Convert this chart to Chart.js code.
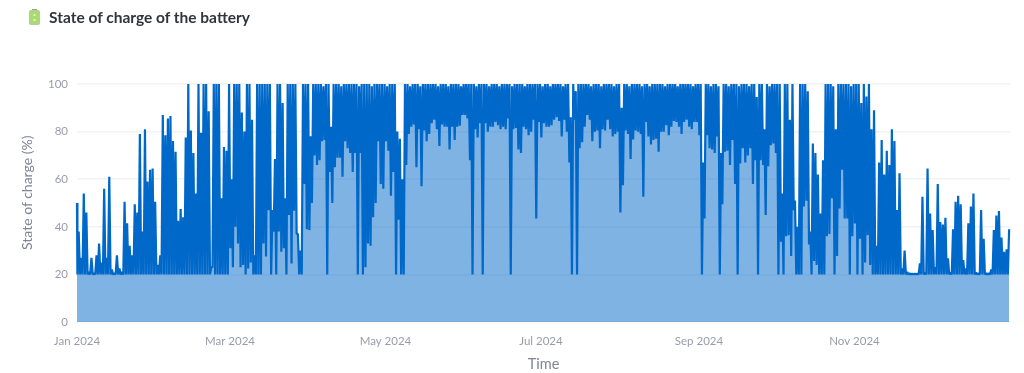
<!DOCTYPE html>
<html>
<head>
<meta charset="utf-8">
<title>State of charge of the battery</title>
<script src="https://cdn.jsdelivr.net/npm/chart.js@4"></script>
<style>
  html, body { margin: 0; padding: 0; background: #fff; }
  #wrap { position: relative; width: 1024px; height: 373px; overflow: hidden; }
  #soc { position: absolute; left: 0; top: 0; }
  #icon { position: absolute; left: 29px; top: 9px; }
  #heading {
    position: absolute; left: 49px; top: 8px; margin: 0;
    font: 700 15.5px Lato, sans-serif; color: #31333f; white-space: nowrap;
  }
  #y_title {
    position: absolute; left: 18px; top: 143px; height: 107px; line-height: 16px;
    writing-mode: vertical-rl; transform: rotate(180deg); text-align: center;
    font: 14px Lato, sans-serif; color: #808495; white-space: nowrap;
  }
</style>
</head>
<body>
<div id="wrap">
  <canvas id="soc" width="1024" height="373"></canvas>
  <svg id="icon" width="11" height="16" viewBox="0 0 11 16">
    <rect x="3" y="0" width="5" height="2" fill="#9aa58f"/>
    <rect x="0.5" y="1.5" width="10" height="14" rx="1" fill="#a9db70" stroke="#b9c7ad" stroke-width="1"/>
    <rect x="4.5" y="5" width="2" height="2" fill="#e4f3c8"/>
    <rect x="4.5" y="10" width="2" height="2" fill="#e4f3c8"/>
  </svg>
  <h3 id="heading">State of charge of the battery</h3>
  <div id="y_title">State of charge (%)</div>
</div>
<script>
// Daily peak of the state of charge (%), one value per day plus the last one
var daily_high = [
    50,38,27,54,46,21,27,20.5,28,33,
    25,56,27,61,22,20.5,28,22.5,21,50.5,
    41.5,32,28,49.5,46,79,38,81,59,64,
    64.5,50.5,24,28,87,78.5,85.5,86.5,76,71.5,
    42.5,47.5,44,77.5,100,80.5,71,54,100,79.5,
    100,100,88.5,23,100,100,100,52,73.5,72,
    100,60,100,100,100,88,80,100,100,85,
    28,100,100,100,100,100,100,47,68.5,100,
    100,92,52,100,100,100,100,37,30,100,
    100,100,78,100,100,100,100,99,100,100,
    82,100,100,100,99,100,100,100,100,100,
    100,99,100,100,100,100,99,100,100,100,
    100,100,99,100,100,100,80,77,60,100,
    100,99,100,100,100,99,100,100,100,100,
    100,100,99,100,100,100,99,100,100,100,
    100,99,100,100,100,100,100,99,100,100,
    100,100,99,100,100,100,99,100,100,100,
    100,99,100,100,100,100,99,100,100,100,
    100,100,100,99,100,100,99,100,100,100,
    100,99,100,100,86,100,97,100,100,100,
    100,100,99,100,100,100,99,100,100,100,
    100,99,100,100,90,100,100,99,100,100,
    100,100,99,100,100,99,100,100,100,100,
    100,99,100,100,100,100,99,100,100,100,
    100,100,99,100,100,100,67,100,100,99,
    100,100,99,71,100,100,99,100,100,100,
    99,100,100,100,99,100,100,94.5,100,100,
    81,100,99,100,100,100,100,54,100,100,
    85,100,51,40,100,100,100,97,38,75,
    71,62,45.6,68,100,100,100,99,81,100,
    100,100,100,100,99,100,100,100,92,100,
    94.7,100,81,89,32,67,76.5,62,72,66,
    81,76,47,62.5,22.5,30,21,20.5,20.3,20.3,
    20.3,24.6,52.6,20.7,64.5,45.6,38.6,23,58,42,
    41,43.8,26.7,20.7,39,50.5,53,49.5,26,22.5,
    41.5,48.5,54,20.7,20.4,47,35,20.5,20.5,22,
    38.6,44.7,46.6,35.5,29.5,30.5,39
];

// Daily low of the state of charge (%), one value per day
var daily_low = [
    20,20,20,20,20,20,20,20,20,20,
    20,20,20,20,20,20,20,20,20,20,
    20,20,20,20,20,20,20,20,20,20,
    20,20,20,20,20,20,20,20,20,20,
    20,20,20,20,20,20,20,20,20,20,
    20,20,20,23,20,20,20,20,20,20,
    31,23,40,33,23,24,20,22.5,25,20,
    20,20,20,33,27.5,47,20,38,20,38,
    29.5,31,20,45,24.6,46.7,37,20,20,58,
    39,38.6,50,70,66,68,76,76.5,20,63,
    50,65,69,69,61,76,73,71,63,71,
    20,71,20,23,33,32,44,50,76,58,
    56,76,72,53,63,20,43,20,20,66,
    79,82,83,65,81,57,80.5,76,79,83.5,
    85,81,74,83,82,82,72.5,82,76.5,82,
    82.5,87,87,85.5,68,20,81,77.5,83.5,20,
    83.5,80,82,82,84,82.7,81,82,81,85.5,
    20,81,81.5,72.5,71,82,81,78.5,80,85,
    43.5,84,77.5,83.5,82,82,82.7,85,86,84.5,
    78,85,80,67,20,85,20,73,75.5,82,
    87,85,76,80,80.5,73,81,80.5,85,81,
    78,79,80,46,57.5,80.5,79,68.5,76.7,80.5,
    80,79,52.6,84,78,74.6,76.5,77,71.5,80,
    80,82.7,78.5,82,84.5,84,82,79,84,85,
    82,81,84,84,78.5,20,43.5,78.5,73,72.5,
    71,78,20,49.5,71.5,72,66,76.5,58,20,
    66.6,73,67,70,73,58,68,20,68,66,
    45,65.5,74.3,75,71,20,33.7,20,36,36.5,
    27.7,47,20,20,20,48.5,51,32.6,20,25.6,
    24,20,20,20,36,37,52,20,27.7,47.7,
    64,43.5,43.5,20,36,41.4,20,35,20,25,
    36.5,24,20,20,20,20,20,20,20,20,
    20,20,20,20,20,20,20,20,20,20,
    20,20,20,20,20,20,20,20,20,20,
    20,20,20,20,20,20,20,20,20,20,
    20,20,20,20,20,20,20,20,20,20,
    20,20,20,20,20,20
];

var tick_days = [0, 60, 121, 182, 244, 305];
var tick_labels = ["Jan 2024", "Mar 2024", "May 2024", "Jul 2024", "Sep 2024", "Nov 2024"];
var y_ticks = [0, 20, 40, 60, 80, 100];

var line_points = [];
for (let i = 0; i < daily_high.length; i++) {
    line_points.push({ x: Math.max(0, i - 0.34), y: daily_high[i] });
    if (i < daily_low.length) {
        line_points.push({ x: i + 0.16, y: daily_low[i] });
    }
}

var tick_font = { family: "Lato, sans-serif", size: 11.5 };
var title_font = { family: "Lato, sans-serif", size: 14.5 };

const ctx = document.getElementById("soc").getContext("2d");
const myChart = new Chart(ctx, {
    type: "line",
    data: {
        datasets: [{
            label: "State of charge",
            data: line_points,
            borderColor: "#0068c9",
            backgroundColor: "rgba(0, 104, 201, 0.5)",
            borderWidth: 2.2,
            borderJoinStyle: "bevel",
            pointRadius: 0,
            fill: "origin",
            tension: 0,
            clip: 2,
        }],
    },
    options: {
        responsive: false,
        animation: false,
        parsing: false,
        layout: { padding: { top: 84, right: 14, left: 20, bottom: 0 } },
        plugins: {
            legend: { display: false },
            tooltip: { enabled: false },
        },
        scales: {
            x: {
                type: "linear",
                min: 0,
                max: 366,
                afterBuildTicks: function(scale) {
                    scale.ticks = tick_days.map(function(d) { return { value: d }; });
                },
                afterFit: function(scale) { scale.height = 51; },
                grid: { display: false },
                border: { display: false },
                ticks: {
                    autoSkip: false,
                    maxRotation: 0,
                    padding: 4,
                    color: "#9a9cab",
                    font: tick_font,
                    callback: function(value) { return tick_labels[tick_days.indexOf(value)]; },
                },
                title: {
                    display: true,
                    text: "Time",
                    color: "#808495",
                    font: title_font,
                    padding: { top: 0, bottom: 0 },
                },
            },
            y: {
                min: 0,
                max: 100,
                afterBuildTicks: function(scale) {
                    scale.ticks = y_ticks.map(function(v) { return { value: v }; });
                },
                afterFit: function(scale) { scale.width = 57; },
                grid: { color: "#f0f2f6", lineWidth: 1.5, drawTicks: false },
                border: { display: false },
                ticks: { padding: 9, color: "#9a9cab", font: tick_font },
            },
        },
    },
});
</script>
</body>
</html>
